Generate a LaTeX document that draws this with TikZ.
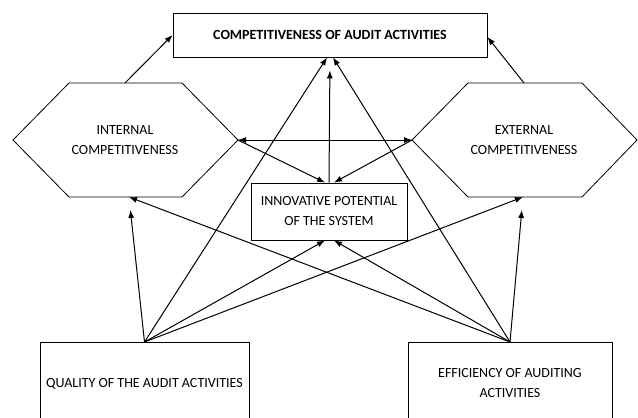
\documentclass[tikz,border=0pt]{standalone}
\usepackage{fontspec}
\setmainfont{Carlito}
\usetikzlibrary{arrows.meta,calc}
\begin{document}
\begin{tikzpicture}[x=1pt,y=-1pt,
  every node/.style={font=\fontsize{14}{20}\selectfont},
  box/.style={draw, line width=0.8pt, inner sep=0pt, align=center},
  hexline/.style={draw, line width=0.8pt},
  txt/.style={inner sep=0pt, align=center},
  arr/.style={line width=1pt, -{Latex[length=8pt,width=6pt]}},
  darr/.style={line width=1pt, {Latex[length=8pt,width=6pt]}-{Latex[length=8pt,width=6pt]}}]
\useasboundingbox (0,0) rectangle (638,418);
\clip (0,0) rectangle (638,418);
% boxes
\node[box, minimum width=314pt, minimum height=44pt, font=\fontsize{14}{20}\selectfont\bfseries] (top) at (330,35) {COMPETITIVENESS OF AUDIT ACTIVITIES};
\node[box, minimum width=156pt, minimum height=57pt] (mid) at (329,211.5) {INNOVATIVE POTENTIAL\\OF THE SYSTEM};
\node[box, minimum width=209pt, minimum height=82pt, anchor=north] (bl) at (144.5,342) {QUALITY OF THE AUDIT ACTIVITIES};
\node[box, minimum width=204pt, minimum height=82pt, anchor=north] (br) at (510,342) {EFFICIENCY OF AUDITING\\ACTIVITIES};
% hexagons
\draw[hexline] (13,140) -- (69,83) -- (182,83) -- (238,140) -- (182,197) -- (69,197) -- cycle;
\draw[hexline] (412,140) -- (468,83) -- (582,83) -- (637,140) -- (582,197) -- (468,197) -- cycle;
\node[txt] (lhex) at (125,140) {INTERNAL\\COMPETITIVENESS};
\node[txt] (rhex) at (524,140) {EXTERNAL\\COMPETITIVENESS};
\coordinate (lhexT) at (125,83);
\coordinate (rhexT) at (524,83);
\coordinate (lhexR) at (238,140);
\coordinate (rhexL) at (412,140);
\coordinate (lhexB) at (129,197);
\coordinate (rhexB) at (523,197);
% connectors
\draw[arr] (lhexT) -- (top.west);
\draw[arr] (rhexT) -- ($(top.east)+(0,2)$);
\draw[darr] (lhexR) -- (rhexL);
\draw[arr] (lhexR) -- ($(mid.north)+(-4,0)$);
\draw[arr] (rhexL) -- ($(mid.north)+(5,0)$);
\draw[arr, shorten >=13pt] (mid.north) -- ($(top.south)+(0,0)$);
\draw[arr] (bl.north) -- ($(top.south)+(-3,0)$);
\draw[arr, shorten >=13pt] (bl.north) -- (lhexB);
\draw[arr] (bl.north) -- ($(mid.south)+(-4,0)$);
\draw[arr] (bl.north) -- (rhexB);
\draw[arr] (br.north) -- ($(top.south)+(3,0)$);
\draw[arr, shorten >=13pt] (br.north) -- (rhexB);
\draw[arr] (br.north) -- ($(mid.south)+(5,0)$);
\draw[arr] (br.north) -- (lhexB);
\end{tikzpicture}
\end{document}
